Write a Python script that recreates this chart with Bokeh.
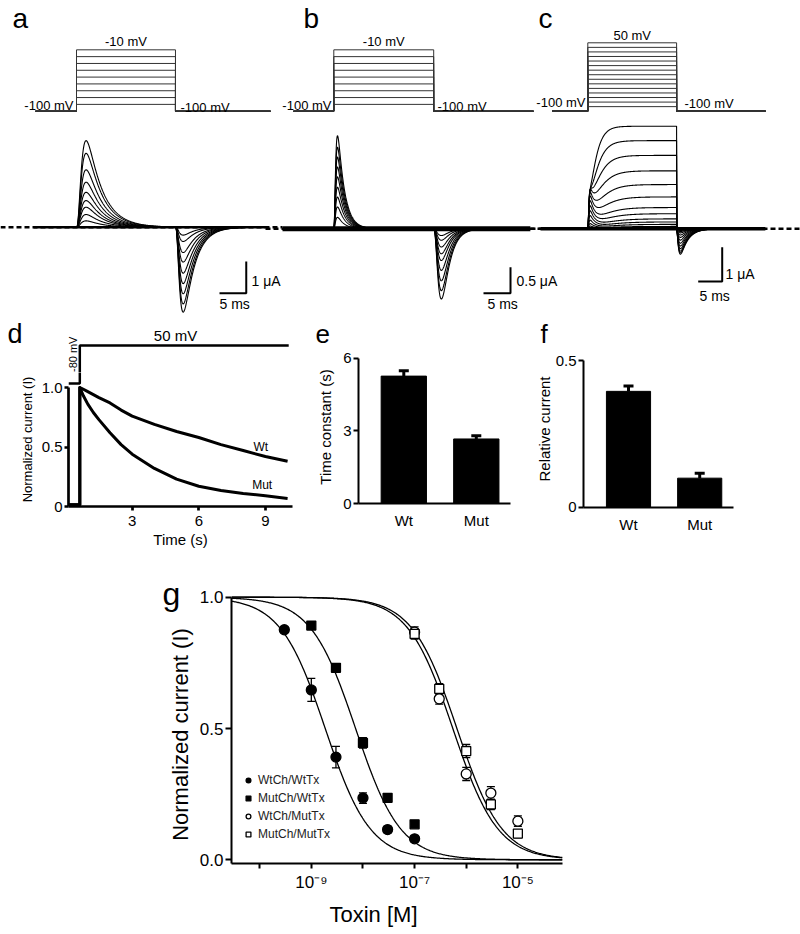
import numpy as np
from bokeh.plotting import figure
from bokeh.models import (Range1d, FixedTicker, CustomJSTickFormatter, Legend,
                          LegendItem, Whisker, TeeHead, ColumnDataSource, Label)
from bokeh.layouts import column, row
from bokeh.embed import file_html
from bokeh.resources import INLINE

FONT = "Liberation Sans"

# ---------------- data ----------------
holding_mV = -100
step_ms = 18.5

a_step_mV = [-90, -80, -70, -60, -50, -40, -30, -20, -10]
a_peak_uA = [0.20, 0.40, 0.63, 0.84, 1.10, 1.42, 1.81, 2.33, 2.73]
a_tail_uA = [-0.25, -0.45, -0.80, -1.10, -1.45, -1.78, -2.10, -2.42, -2.68]

b_step_mV = [-90, -80, -70, -60, -50, -40, -30, -20, -10]
b_peak_uA = [0.22, 0.42, 0.61, 0.80, 1.00, 1.19, 1.38, 1.57, 1.79]
b_tail_uA = [-0.13, -0.22, -0.35, -0.48, -0.61, -0.80, -1.00, -1.19, -1.35]

c_step_mV = [-90, -80, -70, -60, -50, -40, -30, -20, -10, 0, 10, 20, 30, 40, 50]
c_steady_uA = [0.0, 0.01, 0.03, 0.07, 0.13, 0.20, 0.29, 0.44, 0.62, 0.93, 1.29, 1.69, 2.14, 2.57, 2.99]
c_transient_uA = [0.0, 0.03, 0.08, 0.15, 0.25, 0.38, 0.52, 0.66, 0.80, 0.92, 1.0, 1.05, 1.0, 0.9, 0.8]
c_tail_uA = [0.0, 0.0, -0.02, -0.05, -0.08, -0.12, -0.18, -0.25, -0.33, -0.42, -0.50, -0.58, -0.65, -0.70, -0.74]
c_rise_ms = [3.5, 3.5, 3.4, 3.3, 3.2, 3.0, 2.8, 2.6, 2.4, 2.2, 2.0, 1.8, 1.6, 1.4, 1.2]

d_protocol_s = [0.13, 0.64, 0.64, 10.05]
d_protocol_mV = [-80, -80, 50, 50]
d_time_s = [0.13, 0.64, 0.64, 0.8, 1.0, 1.25, 1.5, 2.0, 2.5, 3.0, 4.0, 5.0, 6.0, 7.0, 8.0, 9.0, 10.0]
d_wt = [0.014, 0.014, 1.0, 0.985, 0.965, 0.94, 0.915, 0.87, 0.81, 0.76, 0.69, 0.63, 0.58, 0.52, 0.47, 0.42, 0.38]
d_mut = [0.014, 0.014, 1.0, 0.93, 0.86, 0.79, 0.73, 0.62, 0.52, 0.44, 0.32, 0.23, 0.17, 0.135, 0.11, 0.09, 0.068]

groups = ["Wt", "Mut"]
e_tau_s = [5.27, 2.67]
e_sem = [0.22, 0.13]
f_rel = [0.395, 0.099]
f_sem = [0.018, 0.017]

g_names = ["WtCh/WtTx", "MutCh/WtTx", "WtCh/MutTx", "MutCh/MutTx"]
g_conc_wtwt = [3e-10, 1e-9, 3e-9, 1e-8, 3e-8, 1e-7]
g_resp_wtwt = [0.876, 0.647, 0.391, 0.235, 0.115, 0.080]
g_err_wtwt = [0.010, 0.044, 0.041, 0.020, 0.012, 0.012]
g_conc_mutwt = [1e-9, 3e-9, 1e-8, 3e-8, 1e-7]
g_resp_mutwt = [0.892, 0.731, 0.445, 0.236, 0.135]
g_err_mutwt = [0.014, 0.015, 0.020, 0.013, 0.010]
g_conc_wtmut = [1e-7, 3e-7, 1e-6, 3e-6, 1e-5]
g_resp_wtmut = [0.867, 0.613, 0.327, 0.254, 0.147]
g_err_wtmut = [0.020, 0.020, 0.025, 0.025, 0.020]
g_conc_mutmut = [1e-7, 3e-7, 1e-6, 3e-6, 1e-5]
g_resp_mutmut = [0.860, 0.651, 0.414, 0.211, 0.100]
g_err_mutmut = [0.020, 0.020, 0.025, 0.020, 0.015]
g_ic50_M = [1.86e-9, 7.2e-9, 5.5e-7, 6.6e-7]
g_hill = [1.0, 1.0, 1.0, 1.0]


# ---------------- helpers ----------------
def bl(py, size_px):
    """Pixel row to hand to an alphabetic-baseline label so its baseline lands on py."""
    return py - 0.34 * size_px


def lab(p, x, y, text, size, align="left", baseline="alphabetic", angle=0.0,
        xrn="default", yrn="default", color="black"):
    p.add_layout(Label(x=x, y=y, text=text, text_font=FONT, text_font_size=size,
                       text_align=align, text_baseline=baseline, angle=angle,
                       x_range_name=xrn, y_range_name=yrn, text_color=color))


def blank(w, h, xr, yr):
    p = figure(width=w, height=h, x_range=xr, y_range=yr, title=None,
               x_axis_location=None, y_axis_location=None, min_border=0,
               outline_line_color=None, output_backend="svg", toolbar_location=None)
    p.grid.visible = False
    return p


def axis_fig(w, h, xr, yr, ml, mr, mt, mb, x_axis_type="linear"):
    p = figure(width=w, height=h, x_range=xr, y_range=yr, x_axis_type=x_axis_type,
               title=None, output_backend="svg", toolbar_location=None,
               min_border_left=ml, min_border_right=mr, min_border_top=mt,
               min_border_bottom=mb, outline_line_color=None)
    p.grid.visible = False
    return p


def style_axis(ax, size="15px", lw=2, tick_out=4, standoff=4):
    ax.axis_line_width = lw
    ax.axis_line_color = "black"
    ax.major_tick_line_width = lw
    ax.major_tick_line_color = "black"
    ax.major_tick_in = 0
    ax.major_tick_out = tick_out
    ax.minor_tick_in = 0
    ax.minor_tick_out = 0
    ax.major_label_text_font = FONT
    ax.major_label_text_font_size = size
    ax.major_label_text_color = "black"
    ax.major_label_standoff = standoff
    ax.axis_label_text_font = FONT
    ax.axis_label_text_font_style = "normal"
    ax.axis_label_text_color = "black"


def kin(t, tr, td, pw):
    tt = np.clip(t, 0, None)
    s = (1 - np.exp(-tt / tr)) ** pw * np.exp(-tt / td)
    ref = np.linspace(0, 60, 6001)
    m = ((1 - np.exp(-ref / tr)) ** pw * np.exp(-ref / td)).max()
    return np.where(t > 0, s / m, 0.0)


# ---------------- row 1 : panels a, b, c in one canvas ----------------
H1 = 318
p1 = blank(800, H1, Range1d(0, 800), Range1d(H1, 0))
xr, yr = {}, {}


def panel_maps(key, onset, ms_px, base, ua_px, vbase, mv_px):
    tx = lambda px: (px - onset) / ms_px
    cy = lambda py: (base - py) / ua_px
    vy = lambda py: holding_mV + (vbase - py) / mv_px
    xr["t" + key] = Range1d(tx(0), tx(800))
    yr["i" + key] = Range1d(cy(H1), cy(0))
    yr["v" + key] = Range1d(vy(H1), vy(0))
    return tx, cy, vy


maps = {
    "a": panel_maps("a", 76, 5.35, 226.7, 31.7, 110.7, 0.682),
    "b": panel_maps("b", 333.3, 5.4, 228.3, 52, 110.7, 0.682),
    "c": panel_maps("c", 587.3, 4.8, 228.3, 34.3, 110.7, 0.456),
}
p1.extra_x_ranges = xr
p1.extra_y_ranges = yr


def draw_panel(key, steps, proto_px, trace_px, dash_px, ys_fn, band_w):
    tx, cy, vy = maps[key]
    T, I, V = "t" + key, "i" + key, "v" + key
    p1.line([tx(dash_px[0]), tx(dash_px[1])], [0, 0], line_dash="5 3", line_width=2.5,
            color="black", x_range_name=T, y_range_name=I)
    xs, ys = [], []
    for v in steps:
        xs.append([tx(proto_px[0]), 0, 0, step_ms, step_ms, tx(proto_px[1])])
        ys.append([holding_mV, holding_mV, v, v, holding_mV, holding_mV])
    p1.multi_line(xs, ys, line_color="#333333", line_width=1, x_range_name=T, y_range_name=V)
    t = np.arange(tx(trace_px[0]), tx(trace_px[1]), 0.05)
    traces = ys_fn(t)
    p1.line([t[0], t[-1]], [0, 0], line_width=band_w, color="black", x_range_name=T, y_range_name=I)
    p1.multi_line([t] * len(traces), traces, line_color="black", line_width=1.1,
                  x_range_name=T, y_range_name=I)
    return tx, cy, vy


def scalebar(key, x_px, y_px, ms, ua):
    tx, cy, vy = maps[key]
    t0, c0 = tx(x_px), cy(y_px)
    p1.line([t0, t0 + ms, t0 + ms], [c0, c0, c0 + ua], line_width=2, color="black",
            x_range_name="t" + key, y_range_name="i" + key)


def a_traces(t):
    on = kin(t, 0.7, 2.8, 3) * (t <= step_ms)
    off = kin(t - step_ms, 0.6, 2.0, 3)
    return [A * on + T_ * off for A, T_ in zip(a_peak_uA, a_tail_uA)]


def b_traces(t):
    on = kin(t, 0.25, 1.2, 3) * (t <= step_ms)
    off = kin(t - step_ms, 0.8, 1.3, 3)
    return [A * on + T_ * off for A, T_ in zip(b_peak_uA, b_tail_uA)]


def c_traces(t):
    inside = (t > 0) & (t <= step_ms)
    trans = kin(t, 0.15, 1.2, 3) * (t <= step_ms)
    tail = kin(t - step_ms, 0.35, 1.5, 2)
    out = []
    for S, B, T_, tau in zip(c_steady_uA, c_transient_uA, c_tail_uA, c_rise_ms):
        sus = np.where(inside, S * (1 - np.exp(-np.clip(t, 0, None) / tau)) ** 2, 0.0)
        out.append(sus + B * trans + T_ * tail)
    return out


# panel a
tx, cy, vy = draw_panel("a", a_step_mV, (35, 270), (33, 265), (0, 282), a_traces, 2.5)
lab(p1, 12, bl(28, 28), "a", "28px")
lab(p1, step_ms / 2, vy(bl(45, 13)), "-10 mV", "13px", "center", xrn="ta", yrn="va")
lab(p1, tx(73), vy(bl(109.5, 13)), "-100 mV", "13px", "right", xrn="ta", yrn="va")
lab(p1, tx(180), vy(bl(111.5, 13)), "-100 mV", "13px", "left", xrn="ta", yrn="va")
scalebar("a", 219, 292.7, 5, 1)
lab(p1, tx(251), cy(bl(285, 14)), "1 μA", "14px", xrn="ta", yrn="ia")
lab(p1, tx(219), cy(bl(308, 14)), "5 ms", "14px", xrn="ta", yrn="ia")

# panel b
tx, cy, vy = draw_panel("b", b_step_mV, (293, 533), (282, 530), (265, 540), b_traces, 5)
lab(p1, 303, bl(28, 28), "b", "28px")
lab(p1, step_ms / 2, vy(bl(45, 13)), "-10 mV", "13px", "center", xrn="tb", yrn="vb")
lab(p1, tx(331), vy(bl(109.3, 13)), "-100 mV", "13px", "right", xrn="tb", yrn="vb")
lab(p1, tx(437), vy(bl(110.5, 13)), "-100 mV", "13px", "left", xrn="tb", yrn="vb")
scalebar("b", 483, 292.7, 5, 0.5)
lab(p1, tx(516), cy(bl(285, 14)), "0.5 μA", "14px", xrn="tb", yrn="ib")
lab(p1, tx(487), cy(bl(308, 14)), "5 ms", "14px", xrn="tb", yrn="ib")

# panel c
tx, cy, vy = draw_panel("c", c_step_mV, (551.7, 765), (540, 765), (530, 800), c_traces, 3.5)
lab(p1, 538, bl(28, 28), "c", "28px")
lab(p1, step_ms / 2, vy(bl(39.5, 13)), "50 mV", "13px", "center", xrn="tc", yrn="vc")
lab(p1, tx(585), vy(bl(106, 13)), "-100 mV", "13px", "right", xrn="tc", yrn="vc")
lab(p1, tx(684), vy(bl(107, 13)), "-100 mV", "13px", "left", xrn="tc", yrn="vc")
scalebar("c", 697.7, 281, 5, 1)
lab(p1, tx(725), cy(bl(278, 14)), "1 μA", "14px", xrn="tc", yrn="ic")
lab(p1, tx(699), cy(bl(300, 14)), "5 ms", "14px", xrn="tc", yrn="ic")

# ---------------- row 2 : panels d, e, f ----------------
dx = lambda px: 3 + (px - 131.7) / 22.2
dy = lambda py: (506 - py) / 119
dv = lambda py: -80 + (383 - py) / 0.2923

d_top = blank(308, 54, Range1d(dx(0), dx(308)), Range1d(dv(372), dv(318)))
d_top.line(d_protocol_s, d_protocol_mV, line_width=2.5, color="black")
lab(d_top, dx(7), dv(bl(343, 27)), "d", "27px")
lab(d_top, dx(175), dv(bl(340, 15)), "50 mV", "15px", "center")
lab(d_top, dx(72.5), dv(371.5), "-80 mV", "11px", "left", "middle", np.pi / 2)

pd = axis_fig(308, 188, Range1d(dx(68), dx(292)), Range1d(0, dy(372)), 68, 16, 0, 54)
pd.extra_y_ranges = {"v": Range1d(dv(506), dv(372))}
style_axis(pd.xaxis[0], "15px", 2.7, 4, 5)
style_axis(pd.yaxis[0], "15px", 2.7, 4, 2)
pd.xaxis.ticker = FixedTicker(ticks=[3, 6, 9])
pd.yaxis.ticker = FixedTicker(ticks=[0, 0.5, 1.0])
pd.yaxis.major_label_overrides = {0: "0", 0.5: "0.5", 1: "1.0"}
pd.yaxis.bounds = (0, 1.0)
pd.xaxis.axis_label = "Time (s)"
pd.xaxis.axis_label_text_font_size = "15px"
pd.xaxis.axis_label_standoff = 2
pd.yaxis.axis_label = "Normalized current (I)"
pd.yaxis.axis_label_text_font_size = "13px"
pd.yaxis.axis_label_standoff = 4
pd.line(d_protocol_s, d_protocol_mV, y_range_name="v", line_width=2.5, color="black")
pd.line(d_time_s, d_wt, line_width=3, color="black", line_join="round")
pd.line(d_time_s, d_mut, line_width=3, color="black", line_join="round")
lab(pd, dx(253), dy(bl(450.7, 12)), "Wt", "12px")
lab(pd, dx(251.7), dy(bl(488.3, 12)), "Mut", "12px")

pos = [i + 0.5 for i in range(len(groups))]

# panel e
ex = lambda px: 0.5 + (px - 403.3) / 72.5
ey = lambda py: (503 - py) / 24.17
e_top = blank(220, 31, Range1d(308, 528), Range1d(349, 318))
lab(e_top, 315, bl(342, 26), "e", "26px")
pe = axis_fig(220, 211, Range1d(ex(358), ex(510)), Range1d(0, ey(350)), 50, 18, 1, 57)
style_axis(pe.xaxis[0], "15px", 2, 0, 8)
style_axis(pe.yaxis[0], "15px", 2, 5, 2)
pe.xaxis.ticker = FixedTicker(ticks=pos)
pe.xaxis.major_label_overrides = {p_: g for p_, g in zip(pos, groups)}
pe.yaxis.ticker = FixedTicker(ticks=[0, 3, 6])
pe.yaxis.bounds = (0, 6)
pe.yaxis.axis_label = "Time constant (s)"
pe.yaxis.axis_label_text_font_size = "15px"
pe.yaxis.axis_label_standoff = 6
pe.vbar(x=pos, top=e_tau_s, width=0.625, color="black")
src_e = ColumnDataSource(dict(x=pos, lo=e_tau_s, hi=[v + s for v, s in zip(e_tau_s, e_sem)]))
pe.add_layout(Whisker(source=src_e, base="x", lower="lo", upper="hi", line_width=3,
                      lower_head=None, upper_head=TeeHead(size=10, line_width=3)))

# panel f
fx = lambda px: 0.5 + (px - 628) / 71.2
fy = lambda py: (506.7 - py) / 293.3
f_top = blank(272, 31, Range1d(528, 800), Range1d(349, 318))
lab(f_top, 540, bl(342, 26), "f", "26px")
pf = axis_fig(272, 211, Range1d(fx(583), fx(733)), Range1d(fy(507), fy(350)), 55, 67, 1, 53)
style_axis(pf.xaxis[0], "15px", 2, 0, 8)
style_axis(pf.yaxis[0], "15px", 2, 5, 2)
pf.xaxis.ticker = FixedTicker(ticks=pos)
pf.xaxis.major_label_overrides = {p_: g for p_, g in zip(pos, groups)}
pf.yaxis.ticker = FixedTicker(ticks=[0, 0.5])
pf.yaxis.major_label_overrides = {0: "0", 0.5: "0.5"}
pf.yaxis.bounds = (0, 0.5)
pf.yaxis.axis_label = "Relative current"
pf.yaxis.axis_label_text_font_size = "15px"
pf.yaxis.axis_label_standoff = 0
pf.vbar(x=pos, top=f_rel, width=0.62, color="black")
src_f = ColumnDataSource(dict(x=pos, lo=f_rel, hi=[v + s for v, s in zip(f_rel, f_sem)]))
pf.add_layout(Whisker(source=src_f, base="x", lower="lo", upper="hi", line_width=3,
                      lower_head=None, upper_head=TeeHead(size=10, line_width=3)))

# ---------------- row 3 : panel g ----------------
glx = lambda px: -9 + (px - 309.3) / 51.95
gx = lambda px: 10 ** glx(px)
gy = lambda py: (859.3 - py) / 262.6

g_left = blank(196, 374, Range1d(0, 196), Range1d(934, 560))
lab(g_left, 162, bl(604, 32), "g", "32px")
lab(g_left, 179.5, 734, "Normalized current (I)", "22px", "center", "middle", np.pi / 2)

pg = axis_fig(604, 338, Range1d(gx(229), gx(562)), Range1d(gy(863), gy(590)), 33, 238, 30, 35,
              x_axis_type="log")
style_axis(pg.xaxis[0], "17px", 2, 5, 4)
style_axis(pg.yaxis[0], "17px", 2, 6, 2)
pg.xaxis.ticker = FixedTicker(ticks=[1e-9, 1e-7, 1e-5], minor_ticks=[1e-10, 1e-8, 1e-6])
pg.xaxis.minor_tick_out = 5
pg.xaxis.minor_tick_line_width = 2
pg.xaxis.minor_tick_line_color = "black"
pg.xaxis.formatter = CustomJSTickFormatter(code="""
const sup = {'-':'\u207b','0':'\u2070','1':'\u00b9','2':'\u00b2','3':'\u00b3','4':'\u2074',
             '5':'\u2075','6':'\u2076','7':'\u2077','8':'\u2078','9':'\u2079'};
const e = Math.round(Math.log10(tick));
return '10' + String(e).split('').map(c => sup[c]).join('');
""")
pg.yaxis.ticker = FixedTicker(ticks=[0, 0.5, 1.0])
pg.yaxis.major_label_overrides = {0: "0.0", 0.5: "0.5", 1: "1.0"}
pg.yaxis.bounds = (gy(863), 1.0)

xc = np.logspace(glx(229), glx(562), 400)
for ic50, n in zip(g_ic50_M, g_hill):
    pg.line(xc, 1.0 / (1.0 + (xc / ic50) ** n), line_width=1.3, color="black")

series = [
    (g_conc_wtwt, g_resp_wtwt, g_err_wtwt, "circle", "black", 10),
    (g_conc_mutwt, g_resp_mutwt, g_err_mutwt, "square", "black", 9),
    (g_conc_wtmut, g_resp_wtmut, g_err_wtmut, "circle", "white", 10),
    (g_conc_mutmut, g_resp_mutmut, g_err_mutmut, "square", "white", 9),
]
items = []
for name, (cx, ry, er, mk, fill, sz) in zip(g_names, series):
    src = ColumnDataSource(dict(x=cx, y=ry, lo=[a - b for a, b in zip(ry, er)],
                                hi=[a + b for a, b in zip(ry, er)]))
    w = Whisker(source=src, base="x", lower="lo", upper="hi", line_width=1.3,
                lower_head=TeeHead(size=8, line_width=1.3), upper_head=TeeHead(size=8, line_width=1.3),
                level="underlay")
    pg.add_layout(w)
    r = pg.scatter("x", "y", source=src, marker=mk, size=sz, fill_color=fill,
                   line_color="black", line_width=1.3)
    items.append(LegendItem(label=name, renderers=[r]))

leg = Legend(items=items, location=(9, 20), glyph_width=12, glyph_height=12, label_height=12,
             spacing=4, padding=2, label_standoff=4, margin=0,
             label_text_font=FONT, label_text_font_size="12px", label_text_color="#222222",
             background_fill_alpha=0, border_line_alpha=0)
pg.add_layout(leg)

g_bottom = blank(604, 36, Range1d(196, 800), Range1d(934, 898))
lab(g_bottom, 373, bl(921.7, 22), "Toxin [M]", "22px", "center")

layout = column(
    p1,
    row(column(row(d_top), pd), column(row(e_top), pe), column(row(f_top), pf)),
    row(g_left, column(pg, row(g_bottom))),
)
open("out.html", "w").write(file_html(layout, INLINE, title="figure"))
